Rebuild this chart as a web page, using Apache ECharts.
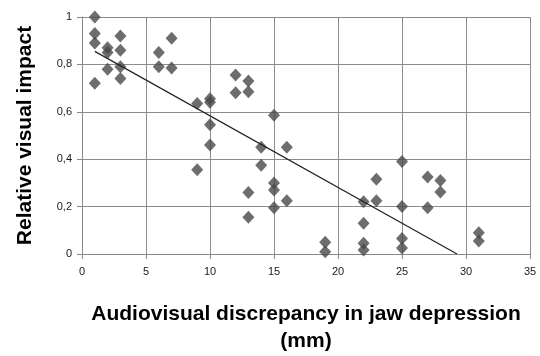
<!DOCTYPE html>
<html><head><meta charset="utf-8">
<script src="https://cdn.jsdelivr.net/npm/echarts@6/dist/echarts.min.js"></script>
<style>html,body{margin:0;padding:0;background:#fff}#c{width:540px;height:356px}</style>
</head><body><div id="c"></div>
<script>
const xTitle = 'Audiovisual discrepancy in jaw depression\n(mm)';
const yTitle = 'Relative visual impact';
const xTicks = [0, 5, 10, 15, 20, 25, 30, 35];
const yTicks = [0, 0.2, 0.4, 0.6, 0.8, 1];
const discrepancy = [1,1,1,1, 2,2,2, 3,3,3,3, 6,6, 7,7, 9,9, 10,10,10,10, 12,12, 13,13,13,13, 14,14, 15,15,15,15, 16,16, 19,19, 22,22,22,22, 23,23, 25,25,25,25, 27,27, 28,28, 31,31];
const impact = [1.0,0.93,0.89,0.72, 0.87,0.85,0.78, 0.92,0.86,0.79,0.74, 0.85,0.79, 0.91,0.785, 0.635,0.355, 0.655,0.64,0.545,0.46, 0.755,0.68, 0.73,0.685,0.26,0.155, 0.45,0.375, 0.585,0.30,0.27,0.195, 0.45,0.225, 0.05,0.01, 0.22,0.13,0.045,0.017, 0.315,0.225, 0.39,0.2,0.065,0.025, 0.325,0.195, 0.31,0.262, 0.09,0.055];
const trendX = [1, 29.3];
const trendY = [0.855, 0];

const points = discrepancy.map((x, i) => [x, impact[i]]);
const trend = trendX.map((x, i) => [x, trendY[i]]);
const fmt = v => String(v).replace('.', ',');

const chart = echarts.init(document.getElementById('c'), null, {renderer: 'canvas'});
chart.setOption({
  animation: false,
  grid: {left: 82, right: 10, top: 17, bottom: 102, containLabel: false, outerBoundsMode: 'none'},
  xAxis: {
    type: 'value', min: xTicks[0], max: xTicks[xTicks.length - 1], interval: 5,
    name: xTitle, nameLocation: 'middle', nameGap: 47,
    nameTextStyle: {fontFamily: 'Liberation Sans', fontWeight: 'bold', fontSize: 21, color: '#000', lineHeight: 27},
    axisLine: {show: true, lineStyle: {color: '#888', width: 1}},
    axisTick: {show: true, length: 5, lineStyle: {color: '#888'}},
    splitLine: {show: true, lineStyle: {color: '#8c8c8c', width: 1}},
    axisLabel: {fontFamily: 'Liberation Sans', fontSize: 11, color: '#1a1a1a', margin: 12, formatter: fmt}
  },
  yAxis: {
    type: 'value', min: yTicks[0], max: yTicks[yTicks.length - 1], interval: 0.2,
    name: yTitle, nameLocation: 'middle', nameGap: 46,
    nameTextStyle: {fontFamily: 'Liberation Sans', fontWeight: 'bold', fontSize: 21, color: '#000'},
    axisLine: {show: true, lineStyle: {color: '#888', width: 1}},
    axisTick: {show: true, length: 5, lineStyle: {color: '#888'}},
    splitLine: {show: true, lineStyle: {color: '#8c8c8c', width: 1}},
    axisLabel: {fontFamily: 'Liberation Sans', fontSize: 11, color: '#1a1a1a', margin: 10, formatter: fmt}
  },
  series: [
    {type: 'line', data: trend, symbol: 'none', lineStyle: {color: '#222', width: 1.2}, z: 3},
    {type: 'scatter', data: points, symbol: 'diamond', symbolSize: [12, 13], itemStyle: {color: '#484848'}, z: 2}
  ]
});
</script></body></html>
